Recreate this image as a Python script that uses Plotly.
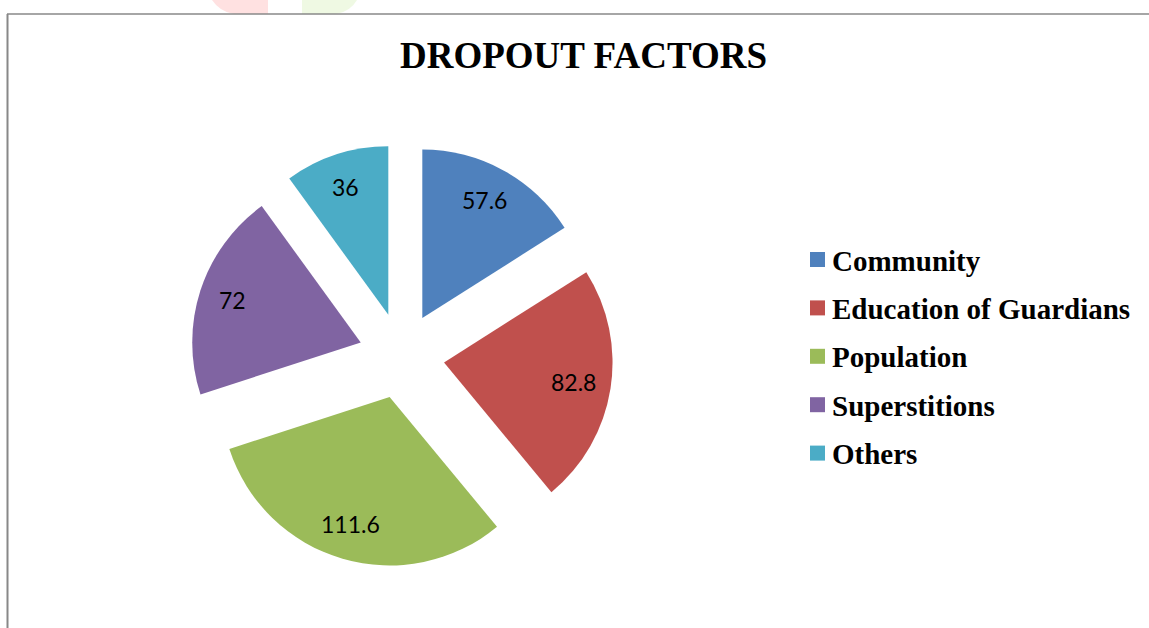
import math
import plotly.graph_objects as go

W, H = 1149, 628

categories = ["Community", "Education of Guardians", "Population", "Superstitions", "Others"]
values = [57.6, 82.8, 111.6, 72, 36]
colors = ["#4F81BD", "#C0504D", "#9BBB59", "#8064A2", "#4BACC6"]
title_text = "DROPOUT FACTORS"

# pie geometry (pixels)
cx, cy, r, pull = 401.6, 355.7, 168.5, 0.255
half = r * (1 + pull)
label_radius = 0.79  # fraction of r, measured from each slice's own apex

fig = go.Figure()
fig.add_trace(go.Pie(
    labels=categories,
    values=values,
    marker=dict(colors=colors, line=dict(width=0)),
    pull=[pull] * len(values),
    sort=False,
    direction="clockwise",
    rotation=0,
    textinfo="none",
    textposition="none",
    showlegend=False,
    hoverinfo="label+value",
    domain=dict(x=[(cx - half) / W, (cx + half) / W],
                y=[1 - (cy + half) / H, 1 - (cy - half) / H]),
))

shapes = []
annotations = []

# data labels placed along each slice bisector
total = sum(values)
start = 0.0
for v in values:
    mid = math.radians((start + v / 2) / total * 360)
    start += v
    dist = r * pull + r * label_radius
    lx = cx + dist * math.sin(mid) - 2
    ly = cy - dist * math.cos(mid) - 1
    annotations.append(dict(xref="paper", yref="paper", x=lx / W, y=1 - ly / H,
                            xanchor="center", yanchor="middle", showarrow=False,
                            text=f"{v:g}",
                            font=dict(family="Lato", size=23, color="black")))

# outer frame of the chart area
shapes.append(dict(type="line", xref="paper", yref="paper",
                   x0=7 / W, x1=1.0, y0=1 - 14 / H, y1=1 - 14 / H,
                   line=dict(color="#888888", width=1.5)))
shapes.append(dict(type="line", xref="paper", yref="paper",
                   x0=7.5 / W, x1=7.5 / W, y0=0, y1=1 - 14 / H,
                   line=dict(color="#888888", width=2)))

# faint watermark fragments above the frame
def P(x, y):
    return f"{x / W:.5f},{1 - y / H:.5f}"

shapes.append(dict(type="path", xref="paper", yref="paper", layer="below",
                   path=f"M{P(212,0)} Q{P(220,12)} {P(234,14)} L{P(268,14)} L{P(268,0)} Z",
                   fillcolor="#FFE1E1", line=dict(width=0)))
shapes.append(dict(type="path", xref="paper", yref="paper", layer="below",
                   path=f"M{P(302,0)} L{P(302,14)} L{P(336,14)} Q{P(350,12)} {P(357,0)} Z",
                   fillcolor="#EFF9E3", line=dict(width=0)))

# legend (drawn manually for exact spacing)
leg_x0, leg_y0, leg_dy, sq = 810, 259.5, 48.4, 15
for i, (name, col) in enumerate(zip(categories, colors)):
    yc = leg_y0 + i * leg_dy
    shapes.append(dict(type="rect", xref="paper", yref="paper",
                       x0=leg_x0 / W, x1=(leg_x0 + sq) / W,
                       y0=1 - (yc + sq / 2) / H, y1=1 - (yc - sq / 2) / H,
                       fillcolor=col, line=dict(width=0)))
    annotations.append(dict(xref="paper", yref="paper",
                            x=(leg_x0 + sq + 5) / W, y=1 - (yc + 1) / H,
                            xanchor="left", yanchor="middle",
                            text=f"<b>{name}</b>", showarrow=False,
                            font=dict(family="Liberation Serif", size=29, color="black")))

annotations.append(dict(xref="paper", yref="paper", x=583 / W, y=1 - 56 / H,
                        xanchor="center", yanchor="middle",
                        text=f"<b>{title_text}</b>", showarrow=False,
                        font=dict(family="Liberation Serif", size=37, color="black")))

fig.update_layout(
    width=W, height=H,
    margin=dict(l=0, r=0, t=0, b=0),
    paper_bgcolor="white",
    plot_bgcolor="white",
    shapes=shapes,
    annotations=annotations,
)

fig.write_html("out.html",
               config={"displayModeBar": False},
               post_script="document.body.style.margin='0';document.body.style.overflow='hidden';")
